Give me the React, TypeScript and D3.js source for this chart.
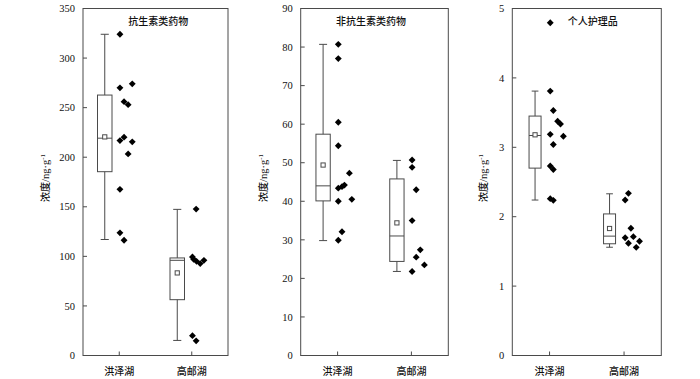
import React from "react";
import * as d3 from "d3";

// ---- data ----
const categories = ["洪泽湖", "高邮湖"];
const panelTitles = ["抗生素类药物", "非抗生素类药物", "个人护理品"];
const yMax = [350, 90, 5];
const yStep = [50, 10, 1];
const yLabelCjk = "浓度";
const yLabelUnit = "/ng·g";
const yLabelSup = "-1";

// box statistics [panel][category]
const boxLow = [[117, 15.2], [29.8, 21.8], [2.24, 1.56]];
const boxQ1 = [[185.4, 56.3], [40.1, 24.4], [2.7, 1.61]];
const boxMedian = [[219.2, 96], [44.0, 31.0], [3.17, 1.72]];
const boxQ3 = [[262.7, 98.4], [57.4, 45.8], [3.45, 2.04]];
const boxHigh = [[324, 147.4], [80.7, 50.6], [3.81, 2.33]];
const boxMean = [[220.5, 83.3], [49.4, 34.4], [3.18, 1.83]];

// raw samples
const abxHZ = [324, 270, 274, 256, 253, 216.8, 220.2, 215.5, 203.3, 167.6, 123.7, 116.3];
const abxHZCol = [0, 0, 3, 1, 2, 0, 1, 3, 2, 0, 0, 1];
const abxGY = [147.7, 99.4, 97, 95, 92.7, 96, 20, 14.8];
const abxGYCol = [0.9, 0, 0.3, 1, 1.9, 2.8, 0, 0.9];

const nonHZ = [80.7, 77, 60.5, 54.4, 43.4, 43.8, 44.2, 47.3, 40, 40.5, 32.1, 29.9];
const nonHZCol = [0, 0, 0, 0, 0, 0.9, 1.5, 2.7, 0, 3.3, 0.9, 0];
const nonGY = [50.7, 48.8, 43, 35, 27.4, 25.5, 23.5, 21.8];
const nonGYCol = [0, 0, 1, 0, 2, 1, 3, 0];

const ppcHZ = [4.795, 3.81, 3.53, 3.375, 3.336, 3.187, 3.16, 3.04, 2.73, 2.68, 2.26, 2.236];
const ppcHZCol = [0, 0, 0.75, 1.8, 2.5, 0, 3.2, 0.75, 0, 0.75, 0, 0.75];
const ppcGY = [2.337, 2.24, 1.833, 1.697, 1.712, 1.617, 1.646, 1.559];
const ppcGYCol = [0.9, 0.1, 1.5, 0.1, 2.1, 0.9, 3.6, 2.8];

const samples = [[abxHZ, abxGY], [nonHZ, nonGY], [ppcHZ, ppcGY]];
const sampleCols = [[abxHZCol, abxGYCol], [nonHZCol, nonGYCol], [ppcHZCol, ppcGYCol]];

// ---- layout / style ----
const W = 700;
const H = 379;
const frames = [
  { left: 83, right: 228, boxW: 14.5, titleDx: 2.8, labelDx: 38 },
  { left: 300.7, right: 448.3, boxW: 14.3, titleDx: -3.5, labelDx: 37.4 },
  { left: 512.3, right: 661.3, boxW: 12, titleDx: 6, labelDx: 29 },
];
const TOP = 8.5;
const BOTTOM = 355.5;
const BOX_SHIFT = -14.5;
const COL_STEP = 4.1;
const PT_SHIFT = 0.7;
const TICK = 4;
const numFont = "'Liberation Serif', 'Times New Roman', serif";
const cjkFont = "'Noto Sans CJK SC', sans-serif";
const lineColor = "#4a4a4a";

function Panel({ p }: { p: number }) {
  const f = frames[p];
  const y = d3.scaleLinear().domain([0, yMax[p]]).range([BOTTOM, TOP]);
  const x = d3.scalePoint<string>().domain(categories).range([f.left, f.right]).padding(0.5);
  const ticks = d3.range(0, yMax[p] + yStep[p] / 2, yStep[p]);
  const cx = (f.left + f.right) / 2;
  const diamond = d3.symbol().type(d3.symbolDiamond2).size(30)();
  return (
    <g>
      <rect x={f.left} y={TOP} width={f.right - f.left} height={BOTTOM - TOP} fill="none" stroke={lineColor} strokeWidth={1} />
      {ticks.map((t) => (
        <g key={t}>
          <line x1={f.left} x2={f.left + TICK} y1={y(t)} y2={y(t)} stroke={lineColor} />
          <text x={f.left - 8} y={y(t)} dy="0.35em" textAnchor="end" fontFamily={numFont} fontSize={10.5} fill="#111">
            {t}
          </text>
        </g>
      ))}
      {categories.map((c) => (
        <g key={c}>
          <line x1={x(c)} x2={x(c)} y1={BOTTOM} y2={BOTTOM - TICK} stroke={lineColor} />
          <text x={x(c)} y={375} textAnchor="middle" fontFamily={cjkFont} fontSize={10} fontWeight={500} fill="#111">
            {c}
          </text>
        </g>
      ))}
      <text x={cx + f.titleDx} y={24.5} textAnchor="middle" fontFamily={cjkFont} fontSize={10} fontWeight={500} fill="#111">
        {panelTitles[p]}
      </text>
      <text
        transform={`translate(${f.left - f.labelDx},178) rotate(-90)`}
        textAnchor="middle"
        dy="0.35em"
        fontFamily={cjkFont}
        fontSize={10}
        fontWeight={500}
        fill="#111"
      >
        {yLabelCjk}
        <tspan fontFamily={numFont} fontSize={10.5} fontWeight={400}>{yLabelUnit}</tspan>
        <tspan fontFamily={numFont} fontSize={7} fontWeight={400} dy={-4}>{yLabelSup}</tspan>
      </text>
      {categories.map((c, i) => {
        const bx = (x(c) as number) + BOX_SHIFT;
        const hw = f.boxW / 2;
        const cap = f.boxW * 0.28;
        const ms = 4.2;
        return (
          <g key={c} stroke={lineColor} fill="none" strokeWidth={1}>
            <line x1={bx} x2={bx} y1={y(boxHigh[p][i])} y2={y(boxQ3[p][i])} />
            <line x1={bx} x2={bx} y1={y(boxQ1[p][i])} y2={y(boxLow[p][i])} />
            <line x1={bx - cap} x2={bx + cap} y1={y(boxHigh[p][i])} y2={y(boxHigh[p][i])} />
            <line x1={bx - cap} x2={bx + cap} y1={y(boxLow[p][i])} y2={y(boxLow[p][i])} />
            <rect x={bx - hw} y={y(boxQ3[p][i])} width={f.boxW} height={y(boxQ1[p][i]) - y(boxQ3[p][i])} />
            <line x1={bx - hw} x2={bx + hw} y1={y(boxMedian[p][i])} y2={y(boxMedian[p][i])} />
            <rect x={bx - ms / 2} y={y(boxMean[p][i]) - ms / 2} width={ms} height={ms} fill="#fff" />
          </g>
        );
      })}
      {categories.map((c, i) =>
        samples[p][i].map((v, k) => (
          <path
            key={`${c}-${k}`}
            d={diamond as string}
            transform={`translate(${(x(c) as number) + PT_SHIFT + sampleCols[p][i][k] * COL_STEP},${y(v)})`}
            fill="#000"
          />
        ))
      )}
    </g>
  );
}

export default function App() {
  return (
    <svg
      width={W}
      height={H}
      viewBox={`0 0 ${W} ${H}`}
      style={{ position: "absolute", left: 0, top: 0, background: "#fff" }}
    >
      <rect width={W} height={H} fill="#fff" />
      {frames.map((_, p) => (
        <Panel key={p} p={p} />
      ))}
    </svg>
  );
}
